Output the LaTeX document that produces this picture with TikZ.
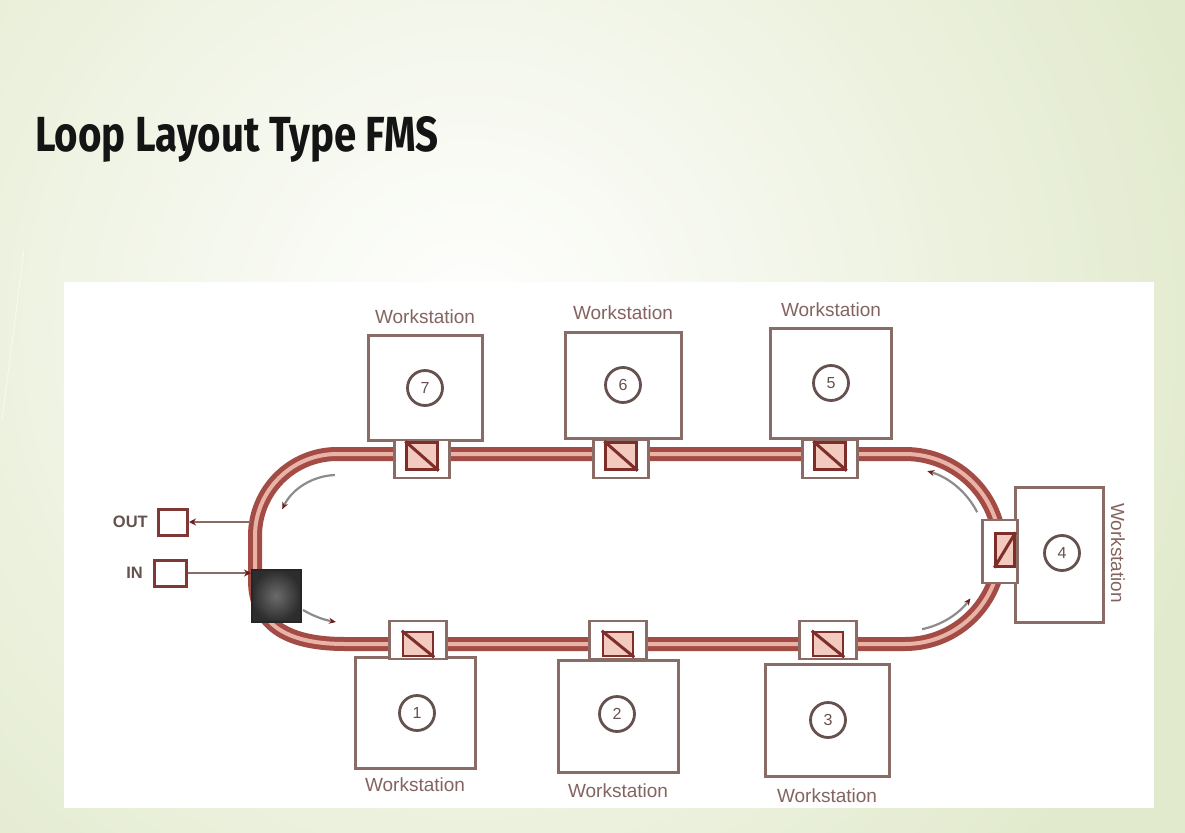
\documentclass[tikz,border=0pt]{standalone}
\usepackage{fontspec}
\setmainfont{Liberation Sans}
\newfontfamily\titlefont{Fira Sans}
\usetikzlibrary{arrows.meta}

\definecolor{slidegreen}{HTML}{E2EACD}
\definecolor{trackdark}{HTML}{A34C45}
\definecolor{tracklight}{HTML}{EAB3A8}
\definecolor{boxline}{HTML}{8A6C66}
\definecolor{labelcol}{HTML}{846460}
\definecolor{numcol}{HTML}{65524F}
\definecolor{carrierfill}{HTML}{F2CABF}
\definecolor{carrierline}{HTML}{7E2D29}
\definecolor{headcol}{HTML}{6E1F1D}
\definecolor{flowgray}{HTML}{8C8C8C}
\definecolor{loaderfill}{HTML}{3C3C3C}

\begin{document}
\begin{tikzpicture}[x=1pt,y=-1pt,
  wsbox/.style={draw=boxline,line width=3pt,fill=white,inner sep=0pt},
  numcirc/.style={circle,draw=numcol,line width=2.8pt,minimum size=35pt,inner sep=0pt,
    text=numcol,font=\fontsize{16}{16}\selectfont},
  wslabel/.style={text=labelcol,font=\fontsize{19}{19}\selectfont,inner sep=0pt},
  frame/.style={draw=boxline,line width=2.8pt,fill=white,inner sep=0pt},
  carrier/.style={draw=carrierline,line width=2.4pt,fill=carrierfill,inner sep=0pt},
  diag/.style={draw=carrierline,line width=3pt},
  trackouter/.style={draw=trackdark,line width=14pt},
  trackinner/.style={draw=tracklight,line width=4pt},
  flow/.style={draw=flowgray,line width=2.2pt,-{Stealth[length=7pt,width=6pt,color=headcol]}},
  feed/.style={draw=boxline,line width=2.6pt,-{Stealth[length=7pt,width=7pt,color=headcol]}},
  portbox/.style={draw=carrierline!85!gray,line width=3pt,fill=white,inner sep=0pt},
  portlabel/.style={text=numcol,font=\bfseries\fontsize{16.5}{16.5}\selectfont,inner sep=0pt}
]
\useasboundingbox (0,0) rectangle (1185,832);

% slide background with soft green vignette
\fill[slidegreen] (-2,-2) rectangle (1187,834);
\begin{scope}
  \clip (-2,-2) rectangle (1187,834);
  \shade[inner color=white,outer color=slidegreen] (470,330) circle (760);
\end{scope}
\draw[white!70!slidegreen,line width=1pt] (24,250) -- (2,420);

% title
\node[anchor=base west,inner sep=0pt,text=black!92] (title) at (35,152)
  {\resizebox{403pt}{35pt}{\titlefont\bfseries Loop Layout Type FMS}};

% white drawing panel
\fill[white] (64,282) rectangle (1154,808);

% the conveyor loop
\def\looppath{(345,644) -- (905,644) arc[start angle=90,end angle=-90,radius=95]
  -- (337,454) arc[start angle=270,end angle=180,radius=82] -- (255,580)
  .. controls (255,628) and (292,644) .. (345,644)}
\path[trackouter] \looppath;
\path[trackinner] \looppath;

% direction arrows inside the loop
\draw[flow] (337,536) ++(268:61) arc[start angle=268,end angle=206,radius=61];
\draw[flow] (905,549) ++(-27:81) arc[start angle=-27,end angle=-74,radius=81];
\draw[flow] (905,549) ++(78:82) arc[start angle=78,end angle=37,radius=82];
\draw[flow] (303,610) .. controls (315,617) and (325,620) .. (336,622);

% upper workstations
\node[wsbox,minimum width=114pt,minimum height=105pt] (ws7) at (425,387.5) {};
\node[wsbox,minimum width=116pt,minimum height=106pt] (ws6) at (623.5,385) {};
\node[wsbox,minimum width=121pt,minimum height=110pt] (ws5) at (831,383) {};
\node[numcirc] (n7) at (425,388) {7};
\node[numcirc] (n6) at (623,385) {6};
\node[numcirc] (n5) at (831,383) {5};
\node[wslabel] (l7) at (425,317) {Workstation};
\node[wslabel] (l6) at (623,313) {Workstation};
\node[wslabel] (l5) at (831,310) {Workstation};

% lower workstations
\node[wsbox,minimum width=120pt,minimum height=111pt] (ws1) at (415,713) {};
\node[wsbox,minimum width=120pt,minimum height=112pt] (ws2) at (618,716) {};
\node[wsbox,minimum width=124pt,minimum height=112pt] (ws3) at (827,720) {};
\node[numcirc] (n1) at (417,713) {1};
\node[numcirc] (n2) at (617,714) {2};
\node[numcirc] (n3) at (828,720) {3};
\node[wslabel] (l1) at (415,785) {Workstation};
\node[wslabel] (l2) at (618,791) {Workstation};
\node[wslabel] (l3) at (827,796) {Workstation};

% workstation 4 on the right bend
\node[wsbox,minimum width=88pt,minimum height=135pt] (ws4) at (1059,554.5) {};
\node[numcirc] (n4) at (1062,553) {4};
\node[wslabel,rotate=-90] (l4) at (1118,553) {Workstation};

% shuttle frames with pallet carriers
\foreach \nm/\cx in {7/422,6/621,5/830}{
  \node[frame,minimum width=55pt,minimum height=38pt] (f\nm) at (\cx,459) {};
  \node[carrier,minimum width=31pt,minimum height=27pt] (c\nm) at (\cx,456) {};
  \draw[diag] (c\nm.north west) -- (c\nm.south east);
}
\foreach \nm/\cx in {1/418,2/618,3/828}{
  \node[frame,minimum width=57pt,minimum height=38pt] (f\nm) at (\cx,640) {};
  \node[carrier,minimum width=30pt,minimum height=24pt] (c\nm) at (\cx,644) {};
  \draw[diag] (c\nm.north west) -- (c\nm.south east);
}
\node[frame,minimum width=35pt,minimum height=63pt] (f4) at (1000,551.5) {};
\node[carrier,minimum width=19pt,minimum height=33pt] (c4) at (1005,550) {};
\draw[diag] (c4.south west) -- (c4.north east);

% load / unload station
\node[draw=black!85,line width=2pt,inner color=black!58,outer color=loaderfill!75!black,
  minimum width=49pt,minimum height=52pt,inner sep=0pt] (loader) at (276,596) {};

% part entry and exit
\node[portbox,minimum width=29pt,minimum height=26pt] (outbox) at (173,522) {};
\node[portbox,minimum width=32pt,minimum height=26pt] (inbox) at (170,573) {};
\node[portlabel,anchor=east] (outlbl) at (148,522) {OUT};
\node[portlabel,anchor=east] (inlbl) at (143,573) {IN};
\coordinate (outjoin) at (251,522);
\coordinate (injoin) at (251,573);
\draw[feed] (outjoin) -- (outbox.east);
\draw[feed] (inbox.east) -- (injoin);
\end{tikzpicture}
\end{document}
